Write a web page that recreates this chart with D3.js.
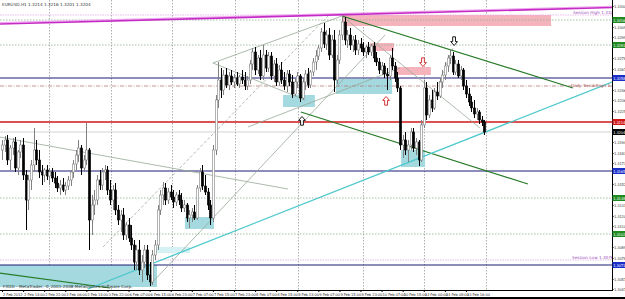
<!DOCTYPE html>
<html><head><meta charset="utf-8">
<script src="https://cdn.jsdelivr.net/npm/d3@7"></script>
<style>html,body{margin:0;padding:0;background:#fff;}svg{display:block;font-family:"DejaVu Sans",Arial,sans-serif;}</style>
</head><body><svg id="c" width="625" height="299"></svg>
<script>
const symbol = "EURUSD,H1";
const open = [1.3186,1.3191,1.3196,1.3176,1.3188,1.3194,1.3168,1.3184,1.3191,1.3161,
1.3136,1.3156,1.3171,1.3186,1.3176,1.3164,1.3161,1.3166,1.3160,1.3164,
1.3158,1.3153,1.3148,1.3151,1.3146,1.3150,1.3156,1.3164,1.3172,1.3181,
1.3188,1.3168,1.3176,1.3186,1.3116,1.3131,1.3136,1.3156,1.3151,1.3164,
1.3166,1.3146,1.3136,1.3146,1.3126,1.3116,1.3121,1.3101,1.3111,1.3098,
1.3091,1.3074,1.3086,1.3066,1.3074,1.3086,1.3061,1.3054,1.3081,1.3091,
1.3126,1.3141,1.3148,1.3136,1.3144,1.3139,1.3134,1.3141,1.3136,1.3128,
1.3131,1.3118,1.3121,1.3124,1.3118,1.3148,1.3164,1.3150,1.3144,1.3131,
1.3118,1.3186,1.3236,1.3256,1.3246,1.3261,1.3251,1.3260,1.3254,1.3258,
1.3252,1.3259,1.3256,1.3250,1.3256,1.3272,1.3284,1.3266,1.3278,1.3260,
1.3281,1.3268,1.3280,1.3260,1.3272,1.3254,1.3266,1.3256,1.3250,1.3262,
1.3254,1.3242,1.3254,1.3260,1.3238,1.3254,1.3262,1.3251,1.3264,1.3274,
1.3280,1.3288,1.3304,1.3292,1.3301,1.3281,1.3296,1.3256,1.3276,1.3301,
1.3314,1.3296,1.3301,1.3291,1.3296,1.3286,1.3292,1.3288,1.3284,1.3289,
1.3284,1.3290,1.3278,1.3274,1.3266,1.3270,1.3262,1.3260,1.3278,1.3270,
1.3258,1.3248,1.3191,1.3196,1.3186,1.3191,1.3204,1.3188,1.3194,1.3176,
1.3211,1.3248,1.3221,1.3236,1.3228,1.3244,1.3240,1.3254,1.3261,1.3270,
1.3278,1.3280,1.3264,1.3272,1.3260,1.3266,1.3250,1.3242,1.3234,1.3228,
1.3222,1.3224,1.3216,1.3214];
const high = [1.3196,1.3200,1.3201,1.3191,1.3198,1.3199,1.3186,1.3196,1.3198,1.3166,
1.3161,1.3176,1.3208,1.3196,1.3186,1.3171,1.3168,1.3171,1.3168,1.3168,
1.3164,1.3160,1.3156,1.3158,1.3154,1.3160,1.3166,1.3176,1.3186,1.3196,
1.3191,1.3181,1.3213,1.3188,1.3141,1.3146,1.3161,1.3166,1.3168,1.3171,
1.3170,1.3156,1.3151,1.3153,1.3131,1.3126,1.3128,1.3114,1.3118,1.3111,
1.3096,1.3091,1.3096,1.3081,1.3091,1.3091,1.3074,1.3086,1.3096,1.3131,
1.3146,1.3154,1.3153,1.3148,1.3151,1.3146,1.3144,1.3146,1.3143,1.3136,
1.3133,1.3126,1.3128,1.3131,1.3151,1.3168,1.3171,1.3161,1.3148,1.3136,
1.3191,1.3241,1.3274,1.3268,1.3266,1.3268,1.3264,1.3266,1.3262,1.3264,
1.3261,1.3266,1.3264,1.3260,1.3276,1.3288,1.3289,1.3281,1.3286,1.3291,
1.3286,1.3284,1.3284,1.3276,1.3278,1.3271,1.3274,1.3264,1.3266,1.3266,
1.3261,1.3258,1.3264,1.3262,1.3258,1.3266,1.3268,1.3266,1.3278,1.3286,
1.3291,1.3308,1.3313,1.3306,1.3308,1.3301,1.3306,1.3281,1.3306,1.3321,
1.3319,1.3306,1.3308,1.3300,1.3301,1.3296,1.3298,1.3294,1.3291,1.3294,
1.3292,1.3294,1.3284,1.3278,1.3274,1.3273,1.3268,1.3281,1.3288,1.3274,
1.3264,1.3250,1.3201,1.3204,1.3196,1.3208,1.3208,1.3198,1.3196,1.3216,
1.3256,1.3254,1.3241,1.3246,1.3248,1.3254,1.3258,1.3266,1.3274,1.3281,
1.3286,1.3284,1.3276,1.3276,1.3270,1.3268,1.3256,1.3248,1.3240,1.3236,
1.3228,1.3226,1.3220,1.3216];
const low = [1.3176,1.3184,1.3171,1.3166,1.3181,1.3164,1.3161,1.3178,1.3156,1.3106,
1.3126,1.3146,1.3164,1.3171,1.3158,1.3151,1.3154,1.3156,1.3151,1.3154,
1.3148,1.3144,1.3141,1.3144,1.3141,1.3146,1.3150,1.3158,1.3166,1.3174,
1.3161,1.3164,1.3171,1.3086,1.3101,1.3121,1.3131,1.3146,1.3146,1.3156,
1.3141,1.3131,1.3126,1.3121,1.3111,1.3104,1.3096,1.3096,1.3094,1.3086,
1.3066,1.3066,1.3061,1.3054,1.3068,1.3056,1.3050,1.3051,1.3076,1.3086,
1.3121,1.3131,1.3131,1.3132,1.3136,1.3128,1.3130,1.3131,1.3124,1.3124,
1.3114,1.3108,1.3114,1.3116,1.3116,1.3144,1.3146,1.3141,1.3126,1.3111,
1.3114,1.3181,1.3228,1.3238,1.3241,1.3248,1.3246,1.3251,1.3248,1.3250,
1.3248,1.3252,1.3246,1.3246,1.3252,1.3266,1.3261,1.3262,1.3256,1.3256,
1.3264,1.3264,1.3256,1.3254,1.3250,1.3250,1.3252,1.3246,1.3244,1.3250,
1.3238,1.3240,1.3248,1.3234,1.3236,1.3246,1.3248,1.3248,1.3260,1.3266,
1.3276,1.3284,1.3288,1.3286,1.3276,1.3278,1.3244,1.3252,1.3272,1.3296,
1.3291,1.3288,1.3286,1.3284,1.3281,1.3281,1.3284,1.3280,1.3278,1.3281,
1.3280,1.3274,1.3270,1.3262,1.3261,1.3258,1.3246,1.3256,1.3266,1.3254,
1.3244,1.3186,1.3178,1.3181,1.3174,1.3186,1.3184,1.3181,1.3170,1.3174,
1.3208,1.3216,1.3218,1.3224,1.3226,1.3236,1.3238,1.3248,1.3256,1.3264,
1.3272,1.3261,1.3261,1.3258,1.3256,1.3246,1.3238,1.3230,1.3224,1.3218,
1.3216,1.3212,1.3210,1.3201];
const close = [1.3191,1.3196,1.3176,1.3188,1.3194,1.3168,1.3184,1.3191,1.3161,1.3136,
1.3156,1.3171,1.3186,1.3176,1.3164,1.3161,1.3166,1.3160,1.3164,1.3158,
1.3153,1.3148,1.3151,1.3146,1.3150,1.3156,1.3164,1.3172,1.3181,1.3188,
1.3168,1.3176,1.3186,1.3116,1.3131,1.3136,1.3156,1.3151,1.3164,1.3166,
1.3146,1.3136,1.3146,1.3126,1.3116,1.3121,1.3101,1.3111,1.3098,1.3091,
1.3074,1.3086,1.3066,1.3074,1.3086,1.3061,1.3054,1.3081,1.3091,1.3126,
1.3141,1.3148,1.3136,1.3144,1.3139,1.3134,1.3141,1.3136,1.3128,1.3131,
1.3118,1.3121,1.3124,1.3118,1.3148,1.3164,1.3150,1.3144,1.3131,1.3118,
1.3186,1.3236,1.3256,1.3246,1.3261,1.3251,1.3260,1.3254,1.3258,1.3252,
1.3259,1.3256,1.3250,1.3256,1.3272,1.3284,1.3266,1.3278,1.3260,1.3281,
1.3268,1.3280,1.3260,1.3272,1.3254,1.3266,1.3256,1.3250,1.3262,1.3254,
1.3242,1.3254,1.3260,1.3238,1.3254,1.3262,1.3251,1.3264,1.3274,1.3280,
1.3288,1.3304,1.3292,1.3301,1.3281,1.3296,1.3256,1.3276,1.3301,1.3314,
1.3296,1.3301,1.3291,1.3296,1.3286,1.3292,1.3288,1.3284,1.3289,1.3284,
1.3290,1.3278,1.3274,1.3266,1.3270,1.3262,1.3260,1.3278,1.3270,1.3258,
1.3248,1.3191,1.3196,1.3186,1.3191,1.3204,1.3188,1.3194,1.3176,1.3211,
1.3248,1.3221,1.3236,1.3228,1.3244,1.3240,1.3254,1.3261,1.3270,1.3278,
1.3280,1.3264,1.3272,1.3260,1.3266,1.3250,1.3242,1.3234,1.3228,1.3222,
1.3224,1.3216,1.3214,1.3204];

const xTickLabels = ["2 Feb 2012","2 Feb 14:00","2 Feb 22:00","3 Feb 06:00","3 Feb 14:00","3 Feb 22:00",
"6 Feb 07:00","6 Feb 15:00","6 Feb 23:00","7 Feb 07:00","7 Feb 15:00","7 Feb 23:00",
"8 Feb 07:00","8 Feb 15:00","8 Feb 23:00","9 Feb 07:00","9 Feb 15:00","9 Feb 23:00",
"10 Feb 07:00","10 Feb 15:00","13 Feb 00:00","13 Feb 08:00","13 Feb 16:00"];
const xTickEvery = 8;
const yTicks = [1.3330,1.3320,1.3309,1.3299,1.3288,1.3278,1.3267,1.3257,1.3246,1.3236,1.3225,1.3215,1.3204,1.3194,
1.3183,1.3173,1.3162,1.3152,1.3141,1.3131,1.3120,1.3110,1.3099,1.3089,1.3078,1.3068,1.3057,1.3047];
const separatorBars = [17.8,41.2,64.6,88.4,112.3,136.8,160.1,183.6];

// horizontal level objects
const levelPrices = [1.3321,1.3316,1.3291,1.3258,1.3250,1.3214,1.3165,1.3138,1.3102,1.3076,1.3071];
const levelKinds  = ["sessHi","green","green","navy","trend","red","navy","green","green","sessLo","navy"];

// trend lines: [bar, price] pairs
const tlMagenta = [[-1,1.3312],[232,1.33285]];
const tlGreenUpper = [[129,1.3320],[216.6,1.3248]];
const tlGreenLower = [[113.4,1.3224],[199.5,1.3152]];
const tlGreenLeft = [[-1,1.3063],[41,1.3048]];
const tlCyan = [[32.6,1.3047],[231.4,1.3254]];
const tlGray = [
  [[-1,1.3199],[108.5,1.3147]],
  [[80,1.3273],[129,1.3320]],
  [[56.1,1.3051],[145.3,1.3301]],
  [[129.4,1.3319],[181.3,1.3208]],
  [[93.3,1.3209],[151,1.3268]],
  [[80,1.3273],[115,1.3236]]
];
const tlDashed = [
  [[38.3,1.3089],[124.4,1.3322]],
  [[158.6,1.3206],[171.1,1.3288]]
];

// rectangles: [bar1, bar2, priceTop, priceBottom]
const cyanRects = [[106.6,118.7,1.3241,1.3229],[126.7,148,1.3257,1.3242],[151.4,160.5,1.3186,1.3169],
  [69.4,80.4,1.3119,1.3107],[-1,58.8,1.3071,1.3049]];
const paleRects = [[58,71.3,1.3089,1.3083]];
const pinkRects = [[129,208.3,1.3321,1.3310],[139.6,148.7,1.3293,1.3285],[149,162.7,1.3269,1.3261]];

// arrows
const arrowBars = [113.8,145.7,159.7,171.5];
const arrowPrices = [1.3215,1.3235,1.3274,1.3295];
const arrowDirs = ["up","up","down","down"];
const arrowColors = ["#000","#d02020","#d02020","#000"];

const W = 625, H = 299, plotR = 612, plotB = 290;
const svg = d3.select("#c");
const x = d3.scaleLinear().domain([0,231.4]).range([2,plotR]);
const y = d3.scaleLinear().domain([1.3336,1.3046]).range([0,plotB]);

svg.append("rect").attr("width",W).attr("height",H).attr("fill","#fff");
svg.append("clipPath").attr("id","pc").append("rect").attr("width",plotR).attr("height",plotB);
const g = svg.append("g").attr("clip-path","url(#pc)");

g.selectAll(".sep").data(separatorBars).join("line")
  .attr("x1",d=>Math.round(x(d))+0.5).attr("x2",d=>Math.round(x(d))+0.5).attr("y1",0).attr("y2",plotB)
  .attr("stroke","#9a9a9a").attr("stroke-width",0.8).attr("stroke-dasharray","1.5,1.5");

function rects(data, fill){
  g.selectAll(null).data(data).join("rect")
    .attr("x",d=>x(d[0])).attr("width",d=>x(d[1])-x(d[0]))
    .attr("y",d=>y(d[2])).attr("height",d=>y(d[3])-y(d[2]))
    .attr("fill",fill);
}
rects(cyanRects,"#a3d9df");
rects(paleRects,"#d5f1f3");
rects(pinkRects,"#f5b3bc");

const levelStyle = {
  sessHi:{c:"#e8a8e8",w:0.8,d:"1.5,1"},
  green:{c:"#8fae8f",w:0.8,d:"1.5,1.5"},
  navy:{c:"#1c1c78",w:1.2,d:null},
  trend:{c:"#b07a7a",w:0.8,d:"4,1.5,1,1.5"},
  red:{c:"#d01818",w:1.3,d:null},
  sessLo:{c:"#d8b0e0",w:0.8,d:"1.5,1"}
};
levelPrices.forEach((p,i)=>{
  const s = levelStyle[levelKinds[i]];
  g.append("line").attr("x1",0).attr("x2",plotR).attr("y1",y(p)).attr("y2",y(p))
    .attr("stroke",s.c).attr("stroke-width",s.w).attr("stroke-dasharray",s.d);
});
const last = close.length-1;
g.append("line").attr("x1",0).attr("x2",plotR).attr("y1",y(close[last])).attr("y2",y(close[last]))
  .attr("stroke","#c8c8c8").attr("stroke-width",0.8);

const line = d3.line().x(d=>x(d[0])).y(d=>y(d[1]));
tlGray.forEach(l=>g.append("path").attr("d",line(l)).attr("fill","none").attr("stroke","#98a898").attr("stroke-width",0.8));
tlDashed.forEach(l=>g.append("path").attr("d",line(l)).attr("fill","none").attr("stroke","#a0a8a0").attr("stroke-width",0.8).attr("stroke-dasharray","3,2"));
g.append("path").attr("d",line(tlMagenta.map(d=>[d[0],d[1]+0.00013]))).attr("fill","none").attr("stroke","#f0a6f0").attr("stroke-width",1.2);
g.append("path").attr("d",line(tlMagenta)).attr("fill","none").attr("stroke","#c42ac4").attr("stroke-width",1.6);
[tlGreenUpper,tlGreenLower,tlGreenLeft].forEach(l=>g.append("path").attr("d",line(l)).attr("fill","none").attr("stroke","#267a26").attr("stroke-width",1.2));
g.append("path").attr("d",line(tlCyan)).attr("fill","none").attr("stroke","#4cc8cc").attr("stroke-width",1.3);

const idx = d3.range(open.length);
const bw = 2.2;
const cg = g.append("g");
cg.selectAll(".wick").data(idx).join("line")
  .attr("x1",i=>Math.round(x(i))+0.5).attr("x2",i=>Math.round(x(i))+0.5)
  .attr("y1",i=>y(high[i])).attr("y2",i=>y(low[i]))
  .attr("stroke",i=>close[i]>=open[i]?"#808080":"#000").attr("stroke-width",1);
cg.selectAll(".body").data(idx).join("rect")
  .attr("x",i=>Math.round(x(i))+0.5-bw/2).attr("width",bw)
  .attr("y",i=>y(Math.max(open[i],close[i])))
  .attr("height",i=>Math.max(0.8,Math.abs(y(open[i])-y(close[i]))))
  .attr("fill",i=>close[i]>=open[i]?"#fff":"#000")
  .attr("stroke",i=>close[i]>=open[i]?"#808080":"#000").attr("stroke-width",0.6);

const arrowPath = "M0,-4.5L3.4,-0.6L1.4,-0.6L1.4,4.2L-1.4,4.2L-1.4,-0.6L-3.4,-0.6Z";
arrowBars.forEach((b,i)=>{
  g.append("path").attr("d",arrowPath)
    .attr("transform",`translate(${x(b)},${y(arrowPrices[i])}) rotate(${arrowDirs[i]==="up"?0:180})`)
    .attr("fill","#fff").attr("stroke",arrowColors[i]).attr("stroke-width",0.9);
});

const tiny = 4.2;
g.append("text").attr("x",2).attr("y",6).attr("font-size",tiny).attr("fill","#333")
  .text(`${symbol}  ${open[last].toFixed(4)} ${high[last].toFixed(4)} ${low[last].toFixed(4)} ${close[last].toFixed(4)}`);
g.append("text").attr("x",3).attr("y",288).attr("font-size",tiny).attr("fill","#333")
  .text("FXDD - MetaTrader, \u00a9 2001-2008 MetaQuotes Software Corp.");
g.append("text").attr("x",573).attr("y",y(levelPrices[0])-1).attr("font-size",tiny).attr("fill","#a050c0")
  .text(`Session High  ${levelPrices[0].toFixed(4)}`);
g.append("text").attr("x",571).attr("y",y(levelPrices[4])+1.2).attr("font-size",tiny).attr("fill","#b05a5a")
  .text(`Daily Trend Rsgn ${levelPrices[4].toFixed(4)}`);
g.append("text").attr("x",572).attr("y",y(levelPrices[9])-0.8).attr("font-size",tiny).attr("fill","#a050c0")
  .text(`Session Low  ${levelPrices[9].toFixed(4)}`);

svg.append("line").attr("x1",plotR+0.5).attr("x2",plotR+0.5).attr("y1",0).attr("y2",plotB+0.5).attr("stroke","#000").attr("stroke-width",1);
svg.append("line").attr("x1",0).attr("x2",plotR+1).attr("y1",plotB+0.5).attr("y2",plotB+0.5).attr("stroke","#000").attr("stroke-width",1);
svg.append("rect").attr("x",0).attr("y",H-2).attr("width",W).attr("height",2).attr("fill","#000");

// price boxes on axis (level objects + bid)
const boxColor = {green:"#1f8a1f",navy:"#1c2ec8",red:"#d01818"};
const boxes = [];
levelPrices.forEach((p,i)=>{ if(boxColor[levelKinds[i]]) boxes.push([p,boxColor[levelKinds[i]]]); });
boxes.push([close[last],"#000"]);

// y axis: hide tick labels hidden under boxes
const visTicks = yTicks.filter(t=>boxes.every(([p])=>Math.abs(y(p)-y(t))>5));
const ya = svg.append("g").attr("transform",`translate(${plotR},0)`)
  .call(d3.axisRight(y).tickValues(visTicks).tickFormat(d3.format(".4f")).tickSize(1.5).tickPadding(0.5));
ya.select(".domain").remove();
ya.selectAll("text").attr("font-size",3.7).attr("fill","#333").attr("font-family","DejaVu Sans").attr("letter-spacing",-0.15);
ya.selectAll("line").attr("stroke","#000");

const xTickBars = xTickLabels.map((_,k)=>k*xTickEvery);
const xa = svg.append("g").attr("transform",`translate(0,${plotB})`)
  .call(d3.axisBottom(x).tickValues(xTickBars).tickFormat((d,k)=>xTickLabels[k]).tickSize(2).tickPadding(1));
xa.select(".domain").remove();
xa.selectAll("text").attr("font-size",3.7).attr("fill","#333").attr("text-anchor","start").attr("dx",0.5).attr("font-family","DejaVu Sans").attr("letter-spacing",-0.1);
xa.selectAll("line").attr("stroke","#000");

boxes.forEach(([p,c])=>{
  svg.append("rect").attr("x",plotR+0.5).attr("y",y(p)-3).attr("width",W-plotR).attr("height",6).attr("fill",c);
  svg.append("text").attr("x",plotR+1.2).attr("y",y(p)+1.5).attr("font-size",3.7).attr("letter-spacing",-0.15).attr("fill","#fff").text(p.toFixed(4));
});
</script></body></html>
